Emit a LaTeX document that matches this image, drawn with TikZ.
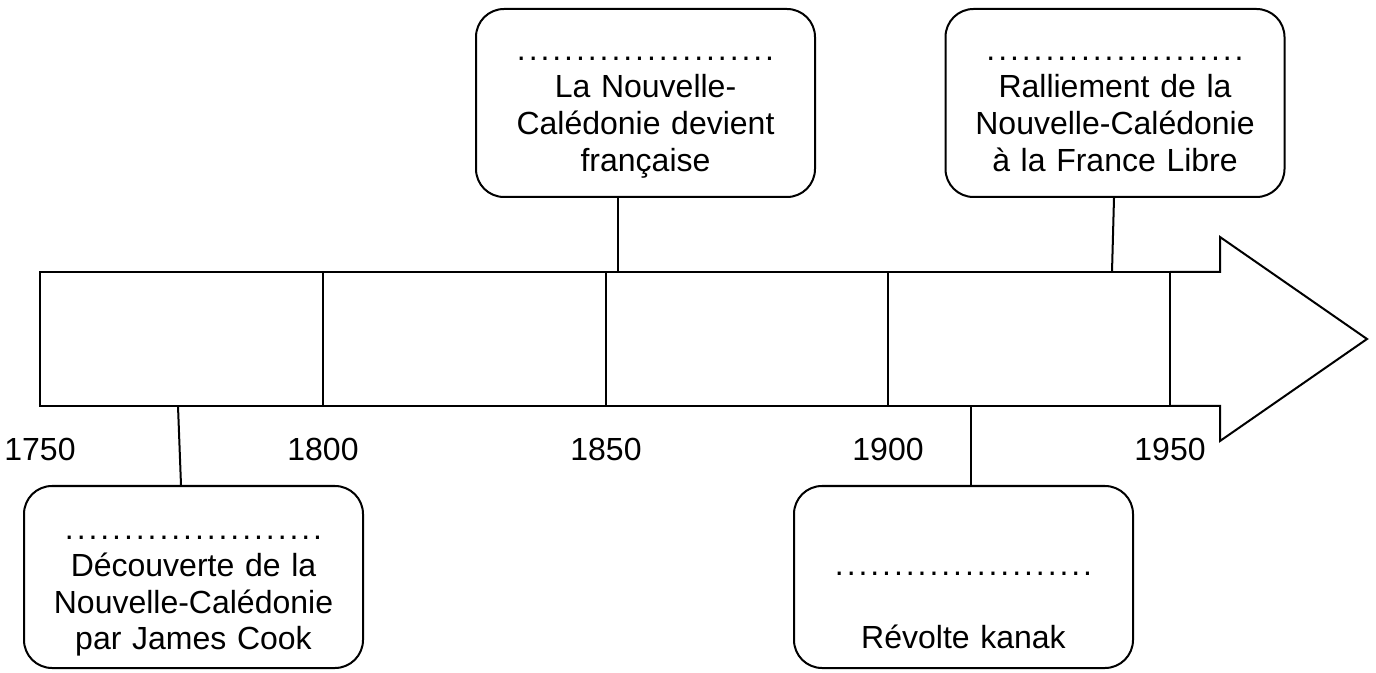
\documentclass[tikz,border=0pt]{standalone}
\usepackage{fontspec}
\setmainfont{Liberation Sans}

\newcommand{\pointilles}{\hbox to 130pt{\xleaders\hbox to 5.9pt{\hss.\hss}\hfill}}

\tikzset{
  eventbox/.style={draw, rounded corners=14pt, minimum width=169.5pt, inner sep=0pt},
  eventtext/.style={anchor=base, align=center, text width=175pt, font=\fontsize{16}{18.4}\selectfont},
  year/.style={anchor=base, font=\fontsize{16}{18.4}\selectfont}
}

\begin{document}
\begin{tikzpicture}[x=0.5pt, y=-0.5pt, line width=1pt]
\useasboundingbox (0,0) rectangle (1376,673);

% frise
\draw (40,272) rectangle (1170,406);
\draw (323,272) -- (323,406);
\draw (606,272) -- (606,406);
\draw (888,272) -- (888,406);
\draw (1170,272) -- (1220,272) -- (1220,237) -- (1367,339) -- (1220,441) -- (1220,406) -- (1170,406);

\foreach \x/\an in {40/1750, 323/1800, 606/1850, 888/1900, 1170/1950}
  \node[year] (y\an) at (\x,460) {\an};

\coordinate (pin1) at (178,406);
\coordinate (pin2) at (618,272);
\coordinate (pin3) at (971,406);
\coordinate (pin4) at (1112,272);

% evenements en haut
\node[eventbox, minimum height=94pt] (francaise) at (645.5,103) {};
\node[eventtext] (francaisetxt) at (645.5,61) {\pointilles\\La Nouvelle-\\Calédonie devient\\française};
\draw (pin2) -- ([xshift=-13.75pt]francaise.south);

\node[eventbox, minimum height=94pt] (ralliement) at (1115,103) {};
\node[eventtext] (ralliementtxt) at (1115,61) {\pointilles\\Ralliement de la\\Nouvelle-Calédonie\\à la France Libre};
\draw (pin4) -- ([xshift=-0.5pt]ralliement.south);

% evenements en bas
\node[eventbox, minimum height=91pt] (cook) at (193.5,577) {};
\node[eventtext] (cooktxt) at (193.5,539.5) {\pointilles\\Découverte de la\\Nouvelle-Calédonie\\par James Cook};
\draw (pin1) -- ([xshift=-6.25pt]cook.north);

\node[eventbox, minimum height=91pt] (revolte) at (963.5,577) {};
\node[eventtext] (revoltetxt) at (963.5,575) {\pointilles\\[18.4pt]Révolte kanak};
\draw (pin3) -- ([xshift=3.75pt]revolte.north);

\end{tikzpicture}
\end{document}
